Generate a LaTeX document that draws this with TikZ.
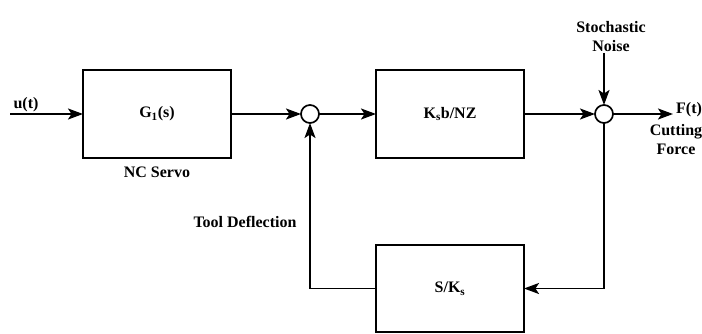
\documentclass[tikz,border=0pt]{standalone}
\usepackage{fontspec}
\setmainfont{Liberation Serif}
\usetikzlibrary{
    arrows.meta,
    positioning
}

\begin{document}
\begin{tikzpicture}[
x=1pt, y=-1pt,
font=\bfseries\fontsize{16}{19}\selectfont,
block/.style={
draw,
line width=1.7pt,
minimum width=148pt,
minimum height=88pt,
inner sep=0pt,
outer sep=0pt
},
sumpt/.style={
draw,
circle,
line width=1.7pt,
minimum size=18pt,
inner sep=0pt,
outer sep=0pt
},
sig/.style={line width=1.7pt, -{Stealth[length=15pt,width=11pt,inset=3.5pt]}}
]
\useasboundingbox (0,0) rectangle (702,334);

\node[block] (servo) at (157,114)
{G\textsubscript{1}(s)};

\node[sumpt, right=70pt of servo] (sumdef) {};

\node[block, right=57pt of sumdef] (cutgain)
{K\textsubscript{s}b/NZ};

\node[sumpt, right=71pt of cutgain] (sumnoise) {};

\node[block, minimum height=87pt,
below=87pt of cutgain] (deflect)
{S/K\textsubscript{s}};

\coordinate[left=73pt of servo] (uin);
\coordinate[right=60pt of sumnoise] (fout);

\node[above=1pt of uin, xshift=16pt, inner sep=1pt] (ulbl) {u(t)};
\node[below=5pt of servo] (servolbl) {NC Servo};
\node[align=center, above=52pt of sumnoise,
xshift=7pt, inner sep=1pt] (noise)
{Stochastic\\Noise};
\node[right=2pt of fout, yshift=4pt, inner sep=1pt] (flbl) {F(t)};
\node[align=center, below=9pt of fout, xshift=3pt,
inner sep=1pt] (cutlbl) {Cutting\\Force};
\node (tdlbl) at (245,222) {Tool Deflection};

\draw[sig] (uin) -- (servo);
\draw[sig] (servo) -- (sumdef);
\draw[sig] (sumdef) -- (cutgain);
\draw[sig] (cutgain) -- (sumnoise);
\draw[sig] (sumnoise) -- (fout);
\draw[sig] (noise.south -| sumnoise) -- (sumnoise);

\draw[sig] (sumnoise) |- (deflect);
\draw[sig] (deflect) -| (sumdef);

\end{tikzpicture}
\end{document}
